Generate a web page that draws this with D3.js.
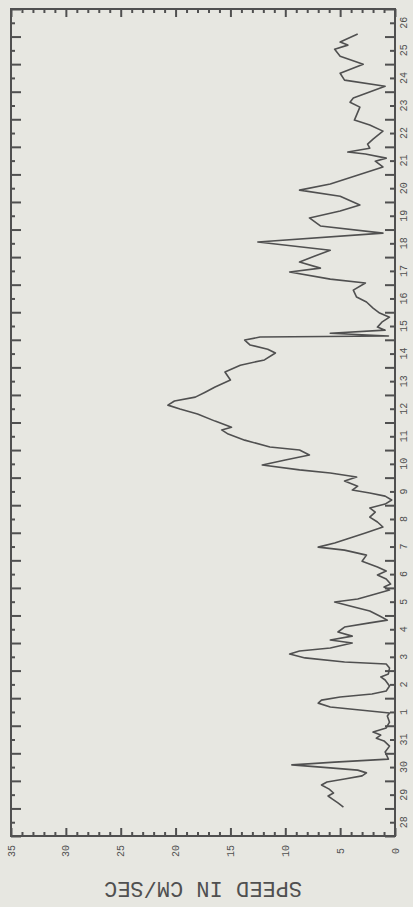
<!DOCTYPE html>
<html>
<head>
<meta charset="utf-8">
<script src="https://cdn.jsdelivr.net/npm/d3@7"></script>
<style>
  html, body { margin: 0; padding: 0; background: #e7e7e1; }
  svg { display: block; }
</style>
</head>
<body>
<div id="wrapper"></div>
<script>
// time in days counted from the start of the 28th (bottom of the plot)
const timeDays = [1.05, 1.20, 1.34, 1.45, 1.56, 1.70, 1.85, 1.96, 2.07, 2.18, 2.29, 2.39, 2.47, 2.58, 2.68, 2.79,
  3.05, 3.26, 3.45, 3.55, 3.66, 3.77, 3.92, 4.13, 4.35, 4.46,
  4.57, 4.68, 4.82, 4.93, 5.04, 5.15, 5.26, 5.44, 5.66, 5.77, 5.88, 6.09, 6.24,
  6.31, 6.46, 6.60, 6.71, 6.82, 7.00, 7.11, 7.25, 7.40, 7.58, 7.73, 7.83, 7.98,
  8.16, 8.34, 8.49, 8.60, 8.74, 8.92, 9.03, 9.14, 9.32, 9.47, 9.61, 9.76, 9.97,
  10.19, 10.37, 10.48, 10.63, 10.81, 10.99, 11.21, 11.39, 11.57, 11.75, 11.90,
  12.04, 12.19, 12.33, 12.44, 12.55, 12.69, 12.88, 13.02, 13.17, 13.28, 13.46, 13.64, 13.82,
  14.00, 14.11, 14.36, 14.58, 14.73, 14.83, 15.05, 15.31, 15.49, 15.63, 15.78, 15.92,
  16.10, 16.29, 16.54, 16.83, 17.08, 17.27, 17.52, 17.66, 17.81, 17.99,
  18.10, 18.14, 18.24, 18.35, 18.46, 18.64, 18.82, 18.97, 19.15, 19.37, 19.55, 19.80,
  20.06, 20.20, 20.46, 20.60, 20.82, 21.04, 21.25, 21.55, 21.87,
  22.13, 22.42, 22.67, 22.89, 23.21, 23.43, 23.65, 24.27, 24.48, 24.59, 24.74, 24.81, 24.95,
  25.10, 25.28, 25.57, 25.79, 25.97, 26.44, 26.62, 26.77, 27.20, 27.42, 27.67,
  28.00, 28.29, 28.54, 28.69, 28.80, 29.09];
const speed = [4.7, 5.2, 5.7, 6.1, 5.6, 6.0, 6.7, 6.2, 4.6, 3.0, 2.6, 3.4, 5.9, 9.4, 5.5, 0.6,
  0.9, 0.5, 1.0, 1.7, 1.3, 2.0, 0.8, 0.5, 0.7, 0.5,
  3.2, 5.9, 7.0, 6.7, 5.0, 2.1, 0.8, 0.5, 0.9, 1.3, 0.6, 0.5, 0.8,
  4.6, 8.2, 9.6, 8.7, 5.9, 3.9, 5.9, 3.9, 5.2, 4.6, 2.3, 0.7, 1.4,
  2.3, 4.1, 5.5, 3.4, 2.1, 0.5, 1.0, 0.4, 0.8, 1.6, 0.8, 1.6, 3.0,
  2.6, 4.6, 7.0, 5.5, 4.1, 2.7, 1.1, 1.6, 2.3, 1.8, 2.3,
  0.9, 0.3, 0.9, 2.3, 3.9, 3.4, 4.6, 3.5, 5.9, 8.7, 12.1, 10.0, 7.8,
  8.7, 11.4, 13.7, 15.2, 15.8, 14.9, 16.4, 18.0, 19.6, 20.7, 20.1, 18.2,
  17.3, 16.4, 15.0, 15.5, 14.1, 11.9, 10.9, 11.6, 13.2, 13.7,
  12.3, 0.6, 5.9, 0.9, 1.6, 1.2, 0.5, 1.4, 2.0, 2.6, 3.5, 3.8,
  2.7, 5.9, 9.6, 6.8, 8.7, 7.3, 5.9, 12.5, 1.1,
  6.8, 7.8, 5.0, 3.2, 5.0, 8.7, 5.9, 1.1, 1.8, 0.8, 2.7, 4.3, 2.3,
  2.5, 2.0, 1.1, 2.3, 3.7, 3.2, 4.1, 3.8, 0.9, 4.6, 5.0,
  2.9, 5.0, 5.5, 4.3, 5.0, 3.4];
const dayLabels = ["28", "29", "30", "31", "1", "2", "3", "4", "5", "6", "7", "8", "9", "10", "11",
  "12", "13", "14", "15", "16", "17", "18", "19", "20", "21", "22", "23", "24", "25", "26"];
const speedTicks = [0, 5, 10, 15, 20, 25, 30, 35];
const axisTitle = "SPEED IN CM/SEC";

const ink = "#505050";
const dim = { width: 413, height: 907, left: 11, right: 395, top: 9, bottom: 836 };

const svg = d3.select("#wrapper").append("svg")
  .attr("width", dim.width)
  .attr("height", dim.height);

const tScale = d3.scaleLinear().domain([0, dayLabels.length]).range([dim.bottom, dim.top]);
const vScale = d3.scaleLinear().domain([0, 35]).range([dim.right, dim.left]);

const halfDays = d3.range(0, dayLabels.length * 2 + 1).map(i => i / 2);
const wholeDays = halfDays.filter(d => d % 1 === 0);
const noons = halfDays.filter(d => d % 1 !== 0);
const unitSpeeds = d3.range(0, 36);
const fiveSpeeds = unitSpeeds.filter(v => v % 5 === 0);
const otherSpeeds = unitSpeeds.filter(v => v % 5 !== 0);

function tickAxis(axis, g) {
  g.call(axis.tickFormat(""));
  g.select(".domain").remove();
  g.selectAll("line").attr("stroke", ink).attr("stroke-width", 2);
}

// right edge (time, ticks pointing in)
tickAxis(d3.axisRight(tScale).tickValues(wholeDays).tickSize(-10),
  svg.append("g").attr("transform", `translate(${dim.right},0)`));
tickAxis(d3.axisRight(tScale).tickValues(noons).tickSize(-5),
  svg.append("g").attr("transform", `translate(${dim.right},0)`));
// left edge
tickAxis(d3.axisLeft(tScale).tickValues(wholeDays).tickSize(-10),
  svg.append("g").attr("transform", `translate(${dim.left},0)`));
tickAxis(d3.axisLeft(tScale).tickValues(noons).tickSize(-4),
  svg.append("g").attr("transform", `translate(${dim.left},0)`));
// bottom edge (speed)
tickAxis(d3.axisBottom(vScale).tickValues(fiveSpeeds).tickSize(-8),
  svg.append("g").attr("transform", `translate(0,${dim.bottom})`));
tickAxis(d3.axisBottom(vScale).tickValues(otherSpeeds).tickSize(-4),
  svg.append("g").attr("transform", `translate(0,${dim.bottom})`));
// top edge
tickAxis(d3.axisTop(vScale).tickValues(fiveSpeeds).tickSize(-8),
  svg.append("g").attr("transform", `translate(0,${dim.top})`));
tickAxis(d3.axisTop(vScale).tickValues(otherSpeeds).tickSize(-4),
  svg.append("g").attr("transform", `translate(0,${dim.top})`));

// frame
svg.append("rect")
  .attr("x", dim.left).attr("y", dim.top)
  .attr("width", dim.right - dim.left).attr("height", dim.bottom - dim.top)
  .attr("fill", "none").attr("stroke", ink).attr("stroke-width", 2);

// day labels (rotated)
svg.append("g").selectAll("text")
  .data(dayLabels)
  .join("text")
  .attr("transform", (d, i) => `translate(${dim.right + 9},${tScale(i + 0.5)}) rotate(-90)`)
  .attr("text-anchor", "middle")
  .attr("dominant-baseline", "central")
  .attr("font-family", "Liberation Mono, DejaVu Sans Mono, monospace")
  .attr("font-size", 10)
  .attr("fill", ink)
  .text(d => d);

// speed labels (rotated)
svg.append("g").selectAll("text")
  .data(speedTicks)
  .join("text")
  .attr("transform", d => `translate(${vScale(d) + 1},${dim.bottom + 15}) rotate(-90)`)
  .attr("text-anchor", "middle")
  .attr("dominant-baseline", "central")
  .attr("font-family", "Liberation Mono, DejaVu Sans Mono, monospace")
  .attr("font-size", 10)
  .attr("fill", ink)
  .text(d => d);

// axis title, upside down
svg.append("text")
  .attr("transform", `translate(${(dim.left + dim.right) / 2},${887}) rotate(180)`)
  .attr("text-anchor", "middle")
  .attr("dominant-baseline", "central")
  .attr("font-family", "Liberation Mono, DejaVu Sans Mono, monospace")
  .attr("font-size", 22)
  .attr("fill", ink)
  .text(axisTitle);

// the speed trace
const data = timeDays.map((t, i) => ({ t, v: speed[i] }));
const line = d3.line()
  .x(d => vScale(d.v))
  .y(d => tScale(d.t));
svg.append("path")
  .attr("d", line(data))
  .attr("fill", "none")
  .attr("stroke", ink)
  .attr("stroke-width", 1.6)
  .attr("stroke-linejoin", "round");
</script>
</body>
</html>
